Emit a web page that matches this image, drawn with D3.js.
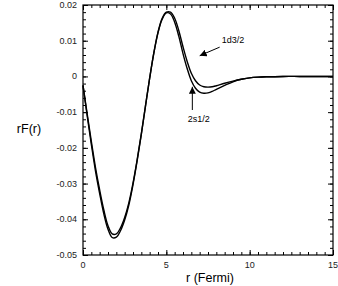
<!DOCTYPE html>
<html>
<head>
<meta charset="utf-8">
<script src="https://cdn.jsdelivr.net/npm/d3@7"></script>
<style>
body { margin: 0; background: #fff; }
svg { display: block; font-family: "Liberation Sans", Arial, sans-serif; }
</style>
</head>
<body>
<div id="chart"></div>
<script>
// radial grid (Fermi)
const r_values = [0, 0.25, 0.5, 0.75, 1, 1.25, 1.5, 1.75, 2, 2.25, 2.5, 2.75, 3, 3.25, 3.5, 3.75,
	4, 4.25, 4.5, 4.75, 5, 5.25, 5.5, 5.75, 6, 6.25, 6.5, 6.75, 7, 7.25, 7.5, 7.75, 8,
	8.5, 9, 9.5, 10, 10.5, 11, 12, 13, 14, 15];
const rF_2s12 = [-0.0025, -0.011, -0.019, -0.0265, -0.0328, -0.0385, -0.0428, -0.0451, -0.0450, -0.0432,
	-0.0402, -0.036, -0.0303, -0.0236, -0.0162, -0.0083, -0.0005, 0.0065, 0.0122, 0.016, 0.0178, 0.0175,
	0.0152, 0.0112, 0.0064, 0.0022, -0.0012, -0.0033, -0.0044, -0.0047, -0.0046, -0.0042, -0.0036,
	-0.0025, -0.0015, -0.0008, -0.0004, -0.0002, -0.0001, 0, 0, 0, 0];
const rF_1d32 = [-0.0025, -0.0105, -0.0182, -0.0255, -0.0318, -0.0374, -0.0418, -0.0441, -0.0441, -0.0424,
	-0.0395, -0.0354, -0.0299, -0.0233, -0.016, -0.0082, -0.0005, 0.0066, 0.0124, 0.0163, 0.018, 0.018,
	0.0163, 0.0128, 0.0083, 0.0042, 0.0009, -0.0012, -0.0024, -0.0029, -0.0030, -0.0029, -0.0026,
	-0.0019, -0.0013, -0.0008, -0.0004, -0.0002, -0.0001, 0, 0, 0, 0];
const x_ticks = [0, 5, 10, 15];
const y_ticks = [0.02, 0.01, 0, -0.01, -0.02, -0.03, -0.04, -0.05];
const series_labels = ['2s1/2', '1d3/2'];

const width = 338, height = 286;
const margin = {top: 5, right: 5, bottom: 31, left: 83};

const svg = d3.select('#chart').append('svg')
	.attr('width', width)
	.attr('height', height)

const x = d3.scaleLinear().domain([0, 15]).range([margin.left, width - margin.right])
const y = d3.scaleLinear().domain([-0.05, 0.02]).range([height - margin.bottom, margin.top])

const x_minor = d3.range(0, 15.01, 0.5)
const y_minor = d3.range(-0.05, 0.0201, 0.002)

// ticks, pointing inward on all four sides
function draw_ticks(axis, pos, minor, major) {
	svg.append('g').attr('transform', pos)
		.call(axis().tickValues(minor).tickSize(3).tickFormat(''))
		.call(g => g.select('.domain').remove())
	svg.append('g').attr('transform', pos)
		.call(axis().tickValues(major).tickSize(5).tickFormat(''))
		.call(g => g.select('.domain').remove())
}
draw_ticks(() => d3.axisTop(x), `translate(0,${y(-0.05)})`, x_minor, x_ticks)
draw_ticks(() => d3.axisBottom(x), `translate(0,${y(0.02)})`, x_minor, x_ticks)
draw_ticks(() => d3.axisRight(y), `translate(${x(0)},0)`, y_minor, y_ticks)
draw_ticks(() => d3.axisLeft(y), `translate(${x(15)},0)`, y_minor, y_ticks)

svg.selectAll('.tick line').attr('stroke', '#000').attr('stroke-width', 1)

// frame
svg.append('rect')
	.attr('x', x(0)).attr('y', y(0.02))
	.attr('width', x(15) - x(0)).attr('height', y(-0.05) - y(0.02))
	.attr('fill', 'none').attr('stroke', '#000').attr('stroke-width', 1.2)

// tick labels
svg.append('g').selectAll('text').data(x_ticks).join('text')
	.attr('x', d => x(d)).attr('y', y(-0.05) + 13)
	.attr('text-anchor', 'middle')
	.style('font-size', '9px').attr('fill', '#222')
	.text(d => d)
svg.append('g').selectAll('text').data(y_ticks).join('text')
	.attr('x', x(0) - 6).attr('y', d => y(d) + 3)
	.attr('text-anchor', 'end')
	.style('font-size', '9px').attr('fill', '#222')
	.text(d => d === 0 ? '0' : d.toFixed(2))

// axis titles
svg.append('text')
	.attr('x', 29).attr('y', 133)
	.attr('text-anchor', 'middle')
	.style('font-size', '12.5px')
	.text('rF(r)')
svg.append('text')
	.attr('x', 210).attr('y', 282)
	.attr('text-anchor', 'middle')
	.style('font-size', '12.5px')
	.text('r (Fermi)')

// curves
const line = d3.line()
	.x((d, i) => x(r_values[i]))
	.y(d => y(d))
	.curve(d3.curveCatmullRom)

svg.selectAll('.curve').data([rF_2s12, rF_1d32]).join('path')
	.attr('class', 'curve')
	.attr('d', line)
	.attr('fill', 'none')
	.attr('stroke', '#000')
	.attr('stroke-width', 1.4)

// annotations
svg.append('defs').append('marker')
	.attr('id', 'head')
	.attr('viewBox', '0 0 10 10')
	.attr('refX', 10).attr('refY', 5)
	.attr('markerWidth', 7).attr('markerHeight', 7)
	.attr('markerUnits', 'userSpaceOnUse')
	.attr('orient', 'auto')
	.append('path').attr('d', 'M0,0 L10,5 L0,10 z').attr('fill', '#000')

const notes = [
	{label: series_labels[1], text: [8.32, 0.0093], from: [8.2, 0.0082], to: [7.0, 0.0058]},
	{label: series_labels[0], text: [6.28, -0.0128], from: [6.56, -0.0094], to: [6.56, -0.0029]},
]
notes.forEach(n => {
	svg.append('line')
		.attr('x1', x(n.from[0])).attr('y1', y(n.from[1]))
		.attr('x2', x(n.to[0])).attr('y2', y(n.to[1]))
		.attr('stroke', '#000').attr('stroke-width', 1)
		.attr('marker-end', 'url(#head)')
	svg.append('text')
		.attr('x', x(n.text[0])).attr('y', y(n.text[1]))
		.style('font-size', '9px')
		.text(n.label)
})
</script>
</body>
</html>
